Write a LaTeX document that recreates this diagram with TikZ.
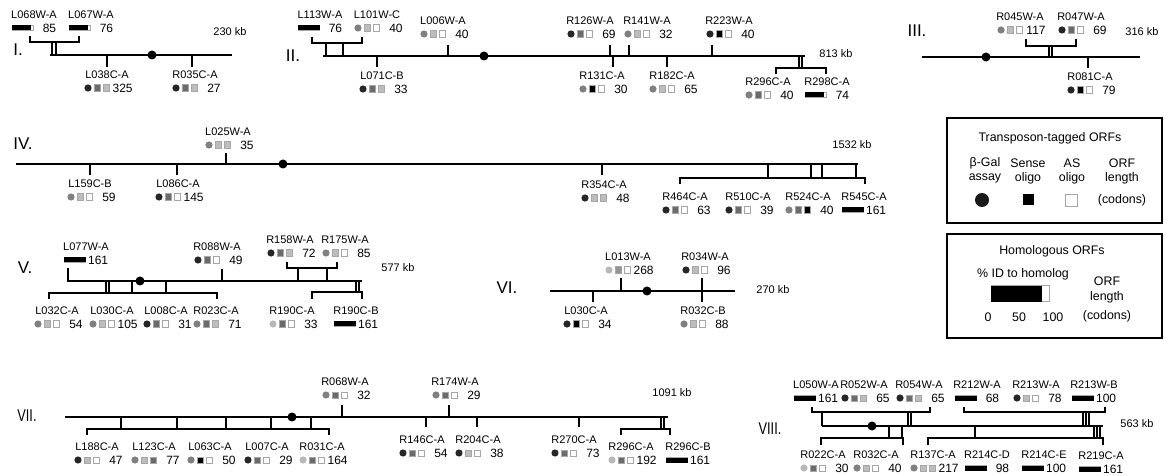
\documentclass[tikz,border=0pt]{standalone}
\usepackage{fontspec}
\setmainfont{Liberation Sans}
\usepackage{tikz}

\definecolor{cdark}{gray}{0.15}
\definecolor{cmid}{gray}{0.5}
\definecolor{clight}{gray}{0.72}
\definecolor{sdark}{gray}{0.42}
\definecolor{smid}{gray}{0.58}
\definecolor{slight}{gray}{0.74}

% tagged ORF: x, y, name, circle, sense, antisense, length
\newcommand{\tagorf}[7]{%
  \node[lbl] (#3-#1) at (#1,#2) {#3};
  \fill[#4] (#1-19,#2+13) circle (3.6);
  \filldraw[sqr,fill=#5] (#1-13.2,#2+9.8) rectangle ++(6.4,6.4);
  \filldraw[sqr,fill=#6] (#1-4.2,#2+9.8) rectangle ++(6.4,6.4);
  \node[num] at (#1+26,#2+13) {#7};
}
% homologous ORF: x, y, name, percent, length
\newcommand{\homorf}[5]{%
  \node[lbl] (#3-#1) at (#1,#2) {#3};
  \filldraw[sqr,fill=white] (#1-22,#2+10.5) rectangle (#1-0.5,#2+15.5);
  \fill (#1-22,#2+10.5) rectangle (#1-22+0.215*#4,#2+15.5);
  \node[num] at (#1+22.5,#2+13) {#5};
}

\begin{document}
\begin{tikzpicture}[x=0.5pt,y=-0.5pt,
    chr/.style={line width=1pt},
    brk/.style={line width=0.75pt},
    sqr/.style={draw=gray!70,line width=0.3pt},
    lbl/.style={font=\fontsize{5.5}{6}\selectfont,inner sep=0pt},
    num/.style={font=\fontsize{6}{7}\selectfont,inner sep=0pt,anchor=east},
    legtxt/.style={font=\fontsize{6.2}{7.5}\selectfont,inner sep=0pt},
    roman/.style={font=\fontsize{8.5}{9}\selectfont,inner sep=0pt}]
\useasboundingbox (0,0) rectangle (1164,476);

% ---- I
\node[roman] (chrI) at (18,50) {I.};
\node[lbl] (kbI) at (230,32) {230 kb};
\draw[chr] (50,55) -- (232,55);
\fill (152,55) circle (4.5);
\draw[brk] (30,36) -- (30,42) -- (79,42) -- (79,36);
\foreach \x in {52,56} \draw[brk] (\x,42) -- (\x,55);
\foreach \x in {107,192} \draw[brk] (\x,55) -- (\x,67);
\homorf{34}{15}{L068W-A}{87}{85}
\homorf{91}{15}{L067W-A}{90}{76}
\tagorf{107}{75}{L038C-A}{cdark}{sdark}{slight}{325}
\tagorf{195}{75}{R035C-A}{cdark}{sdark}{slight}{27}

% ---- II
\node[roman] (chrII) at (293,56) {II.};
\node[lbl] (kbII) at (836,54) {813 kb};
\draw[chr] (323,56) -- (805,56);
\fill (484,56) circle (4.5);
\draw[brk] (312,37) -- (312,43) -- (362,43) -- (362,37);
\foreach \x in {326,343} \draw[brk] (\x,43) -- (\x,56);
\foreach \x in {448,610,629,712} \draw[brk] (\x,45) -- (\x,56);
\foreach \x in {377,613,667} \draw[brk] (\x,56) -- (\x,67);
\foreach \x in {799,802} \draw[brk] (\x,56) -- (\x,68);
\draw[brk] (776,74) -- (776,68) -- (826,68) -- (826,74);
\homorf{320}{15}{L113W-A}{100}{76}
\tagorf{377}{15}{L101W-C}{cmid}{slight}{white}{40}
\tagorf{443}{21}{L006W-A}{cmid}{slight}{white}{40}
\tagorf{382}{76}{L071C-B}{cdark}{sdark}{slight}{33}
\tagorf{590}{21}{R126W-A}{cdark}{sdark}{white}{69}
\tagorf{647}{21}{R141W-A}{cmid}{slight}{white}{32}
\tagorf{729}{21}{R223W-A}{cdark}{black}{white}{40}
\tagorf{602}{76}{R131C-A}{cmid}{black}{white}{30}
\tagorf{672}{76}{R182C-A}{cmid}{slight}{white}{65}
\tagorf{768}{82}{R296C-A}{cmid}{sdark}{white}{40}
\homorf{827}{82}{R298C-A}{88}{74}

% ---- III
\node[roman] (chrIII) at (917,31) {III.};
\node[lbl] (kbIII) at (1142,32) {316 kb};
\draw[chr] (922,57) -- (1140,57);
\fill (986,57) circle (4.5);
\foreach \x in {1049,1052} \draw[brk] (\x,46) -- (\x,57);
\draw[brk] (1026,39) -- (1026,46) -- (1076,46) -- (1076,39);
\draw[brk] (1088,57) -- (1088,68);
\tagorf{1020}{17}{R045W-A}{cmid}{slight}{white}{117}
\tagorf{1081}{17}{R047W-A}{cdark}{sdark}{white}{69}
\tagorf{1090}{77}{R081C-A}{cdark}{black}{white}{79}

% ---- IV
\node[roman] (chrIV) at (23,144) {IV.};
\node[lbl] (kbIV) at (852,145) {1532 kb};
\draw[chr] (16,164) -- (858,164);
\fill (283,164) circle (4.5);
\draw[brk] (226,153) -- (226,164);
\foreach \x in {90,177,602} \draw[brk] (\x,164) -- (\x,175);
\draw[brk] (680,184) -- (680,178) -- (865,178) -- (865,184);
\foreach \x in {768,811,822,856} \draw[brk] (\x,164) -- (\x,178);
\tagorf{228}{132}{L025W-A}{cmid}{slight}{slight}{35}
\tagorf{90}{184}{L159C-B}{cmid}{slight}{white}{59}
\tagorf{178}{184}{L086C-A}{cdark}{sdark}{white}{145}
\tagorf{604}{185}{R354C-A}{cdark}{slight}{slight}{48}
\tagorf{685}{197}{R464C-A}{cdark}{sdark}{white}{63}
\tagorf{748}{197}{R510C-A}{cdark}{sdark}{white}{39}
\tagorf{808}{197}{R524C-A}{cmid}{sdark}{black}{40}
\homorf{864}{197}{R545C-A}{100}{161}

% ---- V
\node[roman] (chrV) at (25,268) {V.};
\node[lbl] (kbV) at (398,268) {577 kb};
\draw[brk] (68,268) -- (68,281);
\draw[chr] (67,281) -- (362,281);
\fill (140,281) circle (4.5);
\draw[brk] (222,269) -- (222,281);
\draw[brk] (287,262) -- (287,268) -- (337,268) -- (337,262);
\foreach \x in {298,327} \draw[brk] (\x,268) -- (\x,281);
\foreach \x in {106,109,132,166} \draw[brk] (\x,281) -- (\x,293);
\draw[brk] (49,299) -- (49,293) -- (217,293) -- (217,299);
\foreach \x in {356,359} \draw[brk] (\x,281) -- (\x,292);
\draw[brk] (312,299) -- (312,292) -- (362,292) -- (362,299);
\homorf{86}{247}{L077W-A}{100}{161}
\tagorf{217}{247}{R088W-A}{cdark}{sdark}{white}{49}
\tagorf{290}{240}{R158W-A}{cdark}{sdark}{slight}{72}
\tagorf{345}{240}{R175W-A}{cmid}{slight}{white}{85}
\tagorf{57}{311}{L032C-A}{cmid}{slight}{white}{54}
\tagorf{112}{311}{L030C-A}{cmid}{slight}{white}{105}
\tagorf{166}{311}{L008C-A}{cdark}{sdark}{white}{31}
\tagorf{216}{311}{R023C-A}{cmid}{sdark}{slight}{71}
\tagorf{292}{311}{R190C-A}{clight}{sdark}{white}{33}
\homorf{356}{311}{R190C-B}{100}{161}

% ---- VI
\node[roman] (chrVI) at (507,288) {VI.};
\node[lbl] (kbVI) at (773,290) {270 kb};
\draw[chr] (550,291) -- (735,291);
\fill (647,291) circle (4.5);
\draw[brk] (621,278) -- (621,291);
\draw[brk] (702,278) -- (702,302);
\draw[brk] (593,291) -- (593,302);
\tagorf{628}{257}{L013W-A}{clight}{smid}{white}{268}
\tagorf{705}{257}{R034W-A}{cdark}{slight}{white}{96}
\tagorf{586}{311}{L030C-A}{cdark}{black}{white}{34}
\tagorf{703}{311}{R032C-B}{cmid}{slight}{white}{88}

% ---- VII
\node[roman] (chrVII) at (27,416) {\scalebox{0.75}[1]{VII.}};
\node[lbl] (kbVII) at (672,393) {1091 kb};
\draw[chr] (65,417) -- (668,417);
\fill (292,417) circle (4.5);
\foreach \x in {121,177,226,271,311} \draw[brk] (\x,417) -- (\x,429);
\draw[brk] (87,435) -- (87,429) -- (329,429) -- (329,435);
\foreach \x in {342,449} \draw[brk] (\x,405) -- (\x,417);
\foreach \x in {426,477,579} \draw[brk] (\x,417) -- (\x,427);
\foreach \x in {661,664} \draw[brk] (\x,417) -- (\x,429);
\draw[brk] (621,435) -- (621,429) -- (670,429) -- (670,435);
\tagorf{97}{447}{L188C-A}{cdark}{slight}{white}{47}
\tagorf{154}{447}{L123C-A}{cmid}{slight}{sdark}{77}
\tagorf{210}{447}{L063C-A}{cmid}{black}{white}{50}
\tagorf{267}{447}{L007C-A}{cdark}{sdark}{white}{29}
\tagorf{322}{447}{R031C-A}{clight}{sdark}{white}{164}
\tagorf{345}{382}{R068W-A}{cmid}{sdark}{white}{32}
\tagorf{455}{382}{R174W-A}{cmid}{sdark}{white}{29}
\tagorf{422}{440}{R146C-A}{cdark}{sdark}{white}{54}
\tagorf{478}{440}{R204C-A}{cdark}{slight}{white}{38}
\tagorf{574}{440}{R270C-A}{cdark}{sdark}{white}{73}
\tagorf{631}{447}{R296C-A}{clight}{sdark}{white}{192}
\homorf{688}{447}{R296C-B}{100}{161}

% ---- VIII
\node[roman] (chrVIII) at (770,429) {\scalebox{0.75}[1]{VIII.}};
\node[lbl] (kbVIII) at (1137,424) {563 kb};
\draw[chr] (822,426) -- (1103,426);
\fill (872,426) circle (4.5);
\draw[brk] (812,407) -- (812,412) -- (930,412) -- (930,407);
\foreach \x in {822,908,911} \draw[brk] (\x,412) -- (\x,426);
\draw[brk] (964,407) -- (964,412) -- (1105,412) -- (1105,407);
\foreach \x in {1083,1086,1089} \draw[brk] (\x,412) -- (\x,426);
\foreach \x in {889,902,975,1094,1097,1100} \draw[brk] (\x,426) -- (\x,438);
\draw[brk] (821,445) -- (821,438) -- (903,438) -- (903,445);
\draw[brk] (928,445) -- (928,438) -- (1103,438) -- (1103,445);
\homorf{816}{385}{L050W-A}{100}{161}
\tagorf{864}{385}{R052W-A}{cdark}{sdark}{slight}{65}
\tagorf{919}{385}{R054W-A}{cdark}{sdark}{slight}{65}
\homorf{977}{385}{R212W-A}{100}{68}
\tagorf{1036}{385}{R213W-A}{cdark}{slight}{white}{78}
\homorf{1094}{385}{R213W-B}{100}{100}
\tagorf{823}{455}{R022C-A}{clight}{sdark}{white}{30}
\tagorf{876}{455}{R032C-A}{cmid}{slight}{white}{40}
\tagorf{933}{455}{R137C-A}{cmid}{slight}{slight}{217}
\homorf{987}{455}{R214C-D}{100}{98}
\homorf{1044}{455}{R214C-E}{100}{100}
\homorf{1101}{456}{R219C-A}{100}{161}

% ---- legend
\draw[line width=0.6pt] (947,118) rectangle (1162,223);
\node[legtxt] (legT) at (1050,138) {Transposon-tagged ORFs};
\node[legtxt] (galA) at (985,163) {β-Gal};
\node[legtxt] (galB) at (985,178) {assay};
\node[legtxt] (senA) at (1028,163) {Sense};
\node[legtxt] (senB) at (1028,178) {oligo};
\node[legtxt] (asA) at (1072,163) {AS};
\node[legtxt] (asB) at (1072,178) {oligo};
\node[legtxt] (lenA) at (1122,163) {ORF};
\node[legtxt] (lenB) at (1122,178) {length};
\node[legtxt] (lenC) at (1122,200) {(codons)};
\fill[gray!20!black] (982,200) circle (7);
\fill (1022.5,194.5) rectangle (1033.5,205.5);
\draw[sqr] (1065,194) rectangle (1077,206);

\draw[line width=0.6pt] (947,234) rectangle (1162,338);
\node[legtxt] (legH) at (1052,251) {Homologous ORFs};
\node[legtxt] (pid) at (1023,274) {\% ID to homolog};
\draw[sqr,line width=0.5pt] (991,286) rectangle (1049,302);
\fill (991,286) rectangle (1042,302);
\node[legtxt] (hlA) at (1107,281) {ORF};
\node[legtxt] (hlB) at (1107,297) {length};
\node[legtxt] (hlC) at (1107,316) {(codons)};
\node[legtxt] (t0) at (988,317) {0};
\node[legtxt] (t50) at (1019,317) {50};
\node[legtxt] (t100) at (1053,317) {100};
\end{tikzpicture}
\end{document}
